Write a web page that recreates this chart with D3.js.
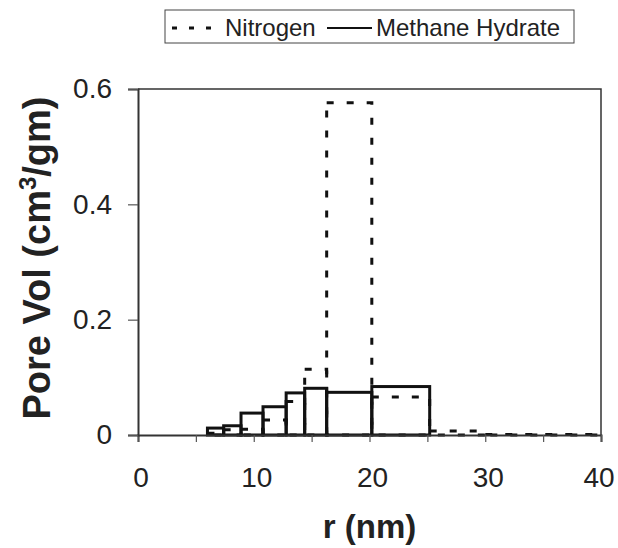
<!DOCTYPE html>
<html>
<head>
<meta charset="utf-8">
<script src="https://cdn.jsdelivr.net/npm/d3@7"></script>
<style>
  body { margin: 0; background: #fff; }
  svg { font-family: "Liberation Sans", Arial, sans-serif; }
</style>
</head>
<body>
<div id="chart"></div>
<script>
// Pore size distribution: histogram outlines for two samples

// bin edges (nm) and values (cm3/gm)
const methaneEdges = [6, 7.4, 8.9, 10.8, 12.8, 14.4, 16.3, 20.2, 25.2];
const methaneVals = [0.012, 0.016, 0.038, 0.049, 0.073, 0.081, 0.074, 0.084];

const nitrogenEdges = [6, 7.4, 8.9, 10.8, 12.8, 14.4, 16.3, 20.2, 25.2, 30, 40];
const nitrogenVals = [0.003, 0.009, 0.010, 0.026, 0.058, 0.114, 0.576, 0.066, 0.007, 0.001];

const xTicks = [0, 10, 20, 30, 40];
const xMinorTicks = [0, 5, 10, 15, 20, 25, 30, 35, 40];
const yTicks = [0, 0.2, 0.4, 0.6];

const W = 618, H = 548;
const margin = { top: 89, right: 17, bottom: 113, left: 138 };
const width = W - margin.left - margin.right;
const height = H - margin.top - margin.bottom;

const svg = d3.select('#chart').append('svg')
    .attr('width', W)
    .attr('height', H);

const g = svg.append('g')
    .attr('transform', `translate(${margin.left},${margin.top})`);

const x = d3.scaleLinear().domain([0, 40]).range([0, width]);
const y = d3.scaleLinear().domain([0, 0.6]).range([height, 0]);

// turn edges + values into bin objects
function bins(edges, vals) {
    return vals.map((v, i) => ({ x0: edges[i], x1: edges[i + 1], v: v }));
}

// Nitrogen (dashed)
g.selectAll('.n-bar')
    .data(bins(nitrogenEdges, nitrogenVals))
    .enter().append('rect')
    .attr('class', 'n-bar')
    .attr('x', d => x(d.x0))
    .attr('y', d => y(d.v))
    .attr('width', d => x(d.x1) - x(d.x0))
    .attr('height', d => y(0) - y(d.v))
    .attr('fill', 'none')
    .attr('stroke', '#111')
    .attr('stroke-width', 3)
    .attr('stroke-dasharray', '7,13');

// Methane hydrate (solid)
g.selectAll('.m-bar')
    .data(bins(methaneEdges, methaneVals))
    .enter().append('rect')
    .attr('class', 'm-bar')
    .attr('x', d => x(d.x0))
    .attr('y', d => y(d.v))
    .attr('width', d => x(d.x1) - x(d.x0))
    .attr('height', d => y(0) - y(d.v))
    .attr('fill', 'none')
    .attr('stroke', '#111')
    .attr('stroke-width', 3);

// plot frame (top/right)
g.append('path')
    .attr('d', `M0,0H${width}V${height}`)
    .attr('fill', 'none')
    .attr('stroke', '#333')
    .attr('stroke-width', 1.5);

// x axis
const xAxis = g.append('g')
    .attr('transform', `translate(0,${height})`)
    .call(d3.axisBottom(x).tickValues(xMinorTicks).tickSize(7).tickFormat(''));
xAxis.select('.domain').attr('stroke', '#333').attr('stroke-width', 2);
xAxis.selectAll('.tick line').attr('stroke', '#555').attr('stroke-width', 1.2);

g.selectAll('.x-label')
    .data(xTicks)
    .enter().append('text')
    .attr('class', 'x-label')
    .attr('x', d => x(d) + (d === 40 ? -2 : 3))
    .attr('y', height + 52)
    .attr('text-anchor', 'middle')
    .style('font-size', '28px')
    .style('fill', '#222')
    .text(d => d);

// y axis
const yAxis = g.append('g')
    .call(d3.axisLeft(y).tickValues(yTicks).tickSize(10).tickPadding(16)
        .tickFormat(d => d === 0 ? '0' : d3.format('.1f')(d)));
yAxis.select('.domain').attr('stroke', '#333').attr('stroke-width', 2);
yAxis.selectAll('.tick line').attr('stroke', '#555').attr('stroke-width', 1.2);
yAxis.selectAll('.tick text')
    .style('font-size', '28px')
    .style('fill', '#222')
    .style('font-family', '"Liberation Sans", Arial, sans-serif');

// axis titles
svg.append('text')
    .attr('x', margin.left + width / 2)
    .attr('y', 538)
    .attr('text-anchor', 'middle')
    .style('font-size', '33px')
    .style('font-weight', 'bold')
    .style('fill', '#222')
    .text('r (nm)');

const yTitle = svg.append('text')
    .attr('transform', 'translate(50,258) rotate(-90)')
    .attr('text-anchor', 'middle')
    .style('font-size', '38px')
    .style('font-weight', 'bold')
    .style('fill', '#222');
yTitle.append('tspan').text('Pore Vol (cm');
yTitle.append('tspan').attr('dy', -14).style('font-size', '24px').text('3');
yTitle.append('tspan').attr('dy', 14).text('/gm)');

// legend
const legend = svg.append('g');
legend.append('rect')
    .attr('x', 165).attr('y', 10)
    .attr('width', 409).attr('height', 33)
    .attr('fill', '#fff')
    .attr('stroke', '#444')
    .attr('stroke-width', 1);
legend.append('line')
    .attr('x1', 172).attr('x2', 222).attr('y1', 28).attr('y2', 28)
    .attr('stroke', '#111').attr('stroke-width', 3)
    .attr('stroke-dasharray', '5,12');
legend.append('text')
    .attr('x', 225).attr('y', 36)
    .style('font-size', '24px').style('fill', '#222')
    .text('Nitrogen');
legend.append('line')
    .attr('x1', 327).attr('x2', 372).attr('y1', 28).attr('y2', 28)
    .attr('stroke', '#111').attr('stroke-width', 2);
legend.append('text')
    .attr('x', 376).attr('y', 36)
    .style('font-size', '24px').style('fill', '#222')
    .text('Methane Hydrate');
</script>
</body>
</html>
